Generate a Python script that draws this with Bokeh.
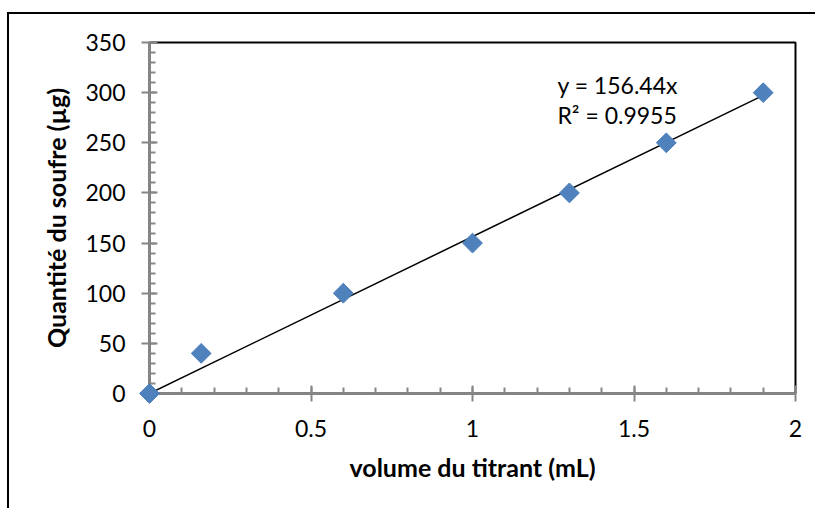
import math
from bokeh.plotting import figure
from bokeh.models import Label, Range1d, SingleIntervalTicker
from bokeh.embed import file_html
from bokeh.resources import INLINE

# titrant volume (mL) and sulfur amount (µg)
volume = [0.0, 0.16, 0.6, 1.0, 1.3, 1.6, 1.9]
soufre = [0, 40, 100, 150, 200, 250, 300]

# linear fit through the origin
slope = 156.44
r2 = 0.9955
fit_x = [0.0, 1.9]
fit_y = [slope * v for v in fit_x]

FONT = "Lato"
AXIS_GREY = "#868686"

# chart area: offset from the page corner, framed on its top and left edges
OFF_X, OFF_Y, EDGE = 7, 12, 2

p = figure(width=817 - OFF_X - EDGE, height=510 - OFF_Y - EDGE,
           output_backend="svg", toolbar_location=None,
           x_range=Range1d(0, 2), y_range=Range1d(0, 350),
           min_border_left=149 - OFF_X - EDGE, min_border_right=22,
           min_border_top=42 - OFF_Y - EDGE, min_border_bottom=117)
p.margin = (OFF_Y, 0, 0, OFF_X)
p.styles = {"border-left": f"{EDGE}px solid black",
            "border-top": f"{EDGE}px solid black"}
p.grid.visible = False
p.background_fill_color = "white"
p.border_fill_color = "white"
p.outline_line_color = "black"
p.outline_line_width = 2

p.xaxis.ticker = SingleIntervalTicker(interval=0.5, num_minor_ticks=5)
p.yaxis.ticker = SingleIntervalTicker(interval=50, num_minor_ticks=5)

for ax in (p.xaxis[0], p.yaxis[0]):
    ax.axis_line_color = AXIS_GREY
    ax.axis_line_width = 2
    ax.major_tick_line_color = AXIS_GREY
    ax.major_tick_line_width = 2
    ax.minor_tick_line_color = AXIS_GREY
    ax.minor_tick_line_width = 2
    ax.major_tick_in = 8
    ax.major_tick_out = 8
    ax.minor_tick_in = 6
    ax.minor_tick_out = 0
    ax.major_label_text_font = FONT
    ax.major_label_text_font_size = "23px"
    ax.major_label_text_color = "black"
    ax.axis_label_text_font = FONT
    ax.axis_label_text_font_size = "25px"
    ax.axis_label_text_font_style = "bold"
    ax.axis_label_text_color = "black"

p.xaxis.axis_label = "volume du titrant (mL)"
p.yaxis.axis_label = "Quantité du soufre (µg)"
p.xaxis.major_label_standoff = 18
p.yaxis.major_label_standoff = 16
p.xaxis.axis_label_standoff = 12
p.yaxis.axis_label_standoff = 11

# trend line and measured points
p.line(fit_x, fit_y, line_color="black", line_width=1.5)
p.scatter(volume, soufre, marker="square", size=14, angle=math.pi / 4,
          fill_color="#4F81BD", line_color="#4A7EBB", line_width=1,
          level="overlay")

p.add_layout(Label(x=1.263, y=308, text=f"y = {slope}x", text_font=FONT,
                   text_font_size="23px", text_color="black",
                   text_baseline="alphabetic"))
p.add_layout(Label(x=1.263, y=278, text=f"R² = {r2}", text_font=FONT,
                   text_font_size="23px", text_color="black",
                   text_baseline="alphabetic"))

open("out.html", "w").write(file_html(p, INLINE))
